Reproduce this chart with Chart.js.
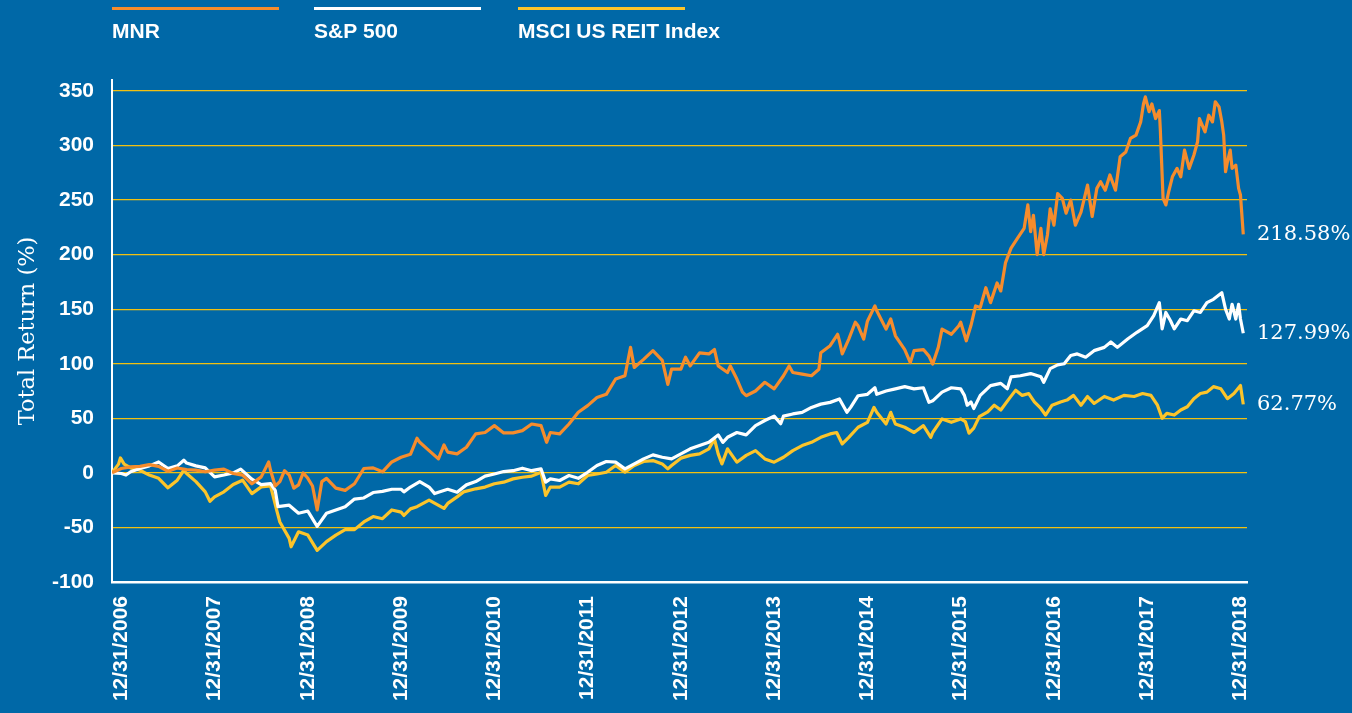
<!DOCTYPE html>
<html>
<head>
<meta charset="utf-8">
<script src="https://cdn.jsdelivr.net/npm/chart.js@4.4.1/dist/chart.umd.min.js"></script>
<style>
  html, body { margin: 0; padding: 0; background: #0068a7; overflow: hidden; }
  #wrap { width: 1352px; height: 713px; }
</style>
</head>
<body>
<div id="wrap"><canvas id="chart" width="1352" height="713"></canvas></div>
<script>
// x values are years after 12/31/2006

const yearLabels = ["12/31/2006", "12/31/2007", "12/31/2008", "12/31/2009", "12/31/2010", "12/31/2011",
  "12/31/2012", "12/31/2013", "12/31/2014", "12/31/2015", "12/31/2016", "12/31/2017", "12/31/2018"];
const yTicks = [-100, -50, 0, 50, 100, 150, 200, 250, 300, 350];
const seriesNames = ["MNR", "S&P 500", "MSCI US REIT Index"];
const endLabels = ["218.58%", "127.99%", "62.77%"];

const mnrT = [-0.1, 0, 0.1, 0.2, 0.3, 0.4, 0.5, 0.6, 0.7, 0.8, 0.9, 1.0, 1.1, 1.2, 1.3, 1.4, 1.5, 1.58, 1.6, 1.65,
  1.7, 1.75, 1.8, 1.85, 1.9, 1.95, 2.0, 2.05, 2.1, 2.15, 2.2, 2.3, 2.4, 2.5, 2.6, 2.7, 2.8, 2.9, 3.0, 3.1,
  3.17, 3.2, 3.3, 3.4, 3.46, 3.5, 3.6, 3.7, 3.8, 3.9, 4.0, 4.1, 4.2, 4.3, 4.4, 4.5, 4.56, 4.6, 4.7, 4.8,
  4.9, 5.0, 5.1, 5.2, 5.3, 5.4, 5.46, 5.5, 5.6, 5.7, 5.8, 5.86, 5.9, 6.0, 6.05, 6.1, 6.2, 6.3, 6.36, 6.4,
  6.5, 6.53, 6.6, 6.66, 6.7, 6.8, 6.9, 7.0, 7.1, 7.16, 7.2, 7.3, 7.4, 7.48, 7.5, 7.6, 7.68, 7.7, 7.73, 7.8,
  7.87, 7.9, 7.96, 8.0, 8.08, 8.1, 8.2, 8.25, 8.3, 8.4, 8.46, 8.5, 8.6, 8.66, 8.7, 8.76, 8.8, 8.9, 8.98, 9.0,
  9.06, 9.11, 9.16, 9.21, 9.27, 9.32, 9.39, 9.43, 9.48, 9.54, 9.61, 9.68, 9.72, 9.75, 9.78, 9.82, 9.86, 9.89, 9.93, 9.96,
  10.0, 10.04, 10.09, 10.13, 10.18, 10.23, 10.29, 10.36, 10.41, 10.46, 10.5, 10.55, 10.6, 10.66, 10.71, 10.77, 10.82, 10.88, 10.93, 10.96,
  10.98, 11.02, 11.05, 11.09, 11.13, 11.14, 11.17, 11.2, 11.23, 11.27, 11.32, 11.36, 11.4, 11.45, 11.5, 11.54, 11.56, 11.62, 11.66, 11.7,
  11.73, 11.77, 11.8, 11.82, 11.84, 11.86, 11.89, 11.91, 11.95, 11.98, 12.0, 12.03];
const mnrV = [0, 4, 5.5, 6, 7.6, 6, 1.5, 4.5, 3, 2.5, 1, 2.5, 3.4, -0.6, -2, -10, -3.7, 10, 2.4, -12,
  -8, 2, -2, -14, -11, 0, -5, -12, -34, -8, -5, -14, -16, -10, 4, 4.6, 1, 10, 14.3, 17,
  31.7, 28, 20.4, 12.8, 25.6, 19, 17.4, 23.5, 35.7, 37, 43.3, 36.6, 36.6, 38.7, 44.8, 43.3, 28, 37, 35.7, 44.8,
  55.5, 61.6, 69, 72, 86, 89, 115, 96.6, 104, 112, 103, 81, 95, 95, 106, 98, 110, 109, 113, 98,
  92, 98, 86, 74, 70.7, 75, 83, 77, 89, 98, 92, 90.5, 89, 95, 110, 116.5, 127, 121, 109, 122.6,
  138, 134.8, 122.6, 139, 153, 148.5, 131.7, 141, 125.6, 113, 101, 112, 113, 107, 99.7, 115, 131.7, 127, 134.8, 138,
  121, 135, 153, 151.5, 169.7, 156, 174, 166.7, 192.4, 206, 215, 224, 245.5, 221, 236, 200, 224, 200, 218, 242,
  227, 256, 251.5, 238, 250, 227, 239, 263.7, 235, 260.7, 266.8, 259, 273, 259, 289.6, 294, 306.4, 309.5, 321.6, 338,
  344.5, 331, 338, 324.7, 332, 315.6, 251.5, 245.5, 257.6, 271.3, 279, 271.3, 295.7, 279, 291, 303.4, 324.7, 312.5, 327.7, 321.6,
  340, 335.4, 321.6, 309.5, 276, 285, 295.7, 279, 282, 260.7, 254.6, 218.58];

const spT = [-0.1, 0, 0.05, 0.1, 0.2, 0.3, 0.4, 0.5, 0.6, 0.67, 0.7, 0.8, 0.9, 1.0, 1.1, 1.2, 1.28, 1.4, 1.5, 1.6,
  1.65, 1.68, 1.8, 1.9, 2.0, 2.1, 2.2, 2.3, 2.4, 2.5, 2.6, 2.7, 2.8, 2.9, 3.0, 3.03, 3.1, 3.2, 3.3, 3.36,
  3.4, 3.5, 3.6, 3.7, 3.8, 3.9, 4.0, 4.1, 4.2, 4.3, 4.4, 4.5, 4.55, 4.6, 4.7, 4.8, 4.9, 5.0, 5.1, 5.2,
  5.3, 5.4, 5.5, 5.6, 5.7, 5.8, 5.9, 6.0, 6.1, 6.2, 6.3, 6.4, 6.45, 6.5, 6.6, 6.7, 6.8, 6.9, 7.0, 7.07,
  7.1, 7.2, 7.3, 7.4, 7.5, 7.6, 7.7, 7.78, 7.82, 7.9, 8.0, 8.08, 8.1, 8.2, 8.3, 8.4, 8.5, 8.6, 8.66, 8.7,
  8.8, 8.9, 9.0, 9.04, 9.07, 9.11, 9.14, 9.21, 9.32, 9.43, 9.5, 9.54, 9.64, 9.75, 9.86, 9.89, 9.96, 10.04, 10.11, 10.18,
  10.25, 10.34, 10.43, 10.54, 10.61, 10.68, 10.79, 10.89, 11.0, 11.07, 11.13, 11.16, 11.2, 11.25, 11.29, 11.36, 11.43, 11.5, 11.57, 11.64,
  11.71, 11.8, 11.84, 11.88, 11.91, 11.95, 11.98, 12.0, 12.03];
const spV = [0, -0.6, -2, 1, 4, 6.4, 10, 4, 6.4, 11.6, 9, 6.4, 4.6, -3.7, -2, 0, 3.4, -5.8, -10.7, -9.8,
  -16, -31, -29.6, -37, -35, -49, -37, -34, -31, -24, -23, -18, -17, -15, -15, -17.4, -13, -8, -13, -19,
  -17.7, -15, -17.7, -11, -8, -3, -1, 1.2, 2, 4.3, 2, 3.7, -8.5, -5.5, -7, -2.4, -5, 0.6, 6.7, 10.4,
  9.8, 3.7, 8.2, 12.8, 16.5, 14.3, 12.8, 17.4, 22, 25, 28, 34.8, 28, 32.6, 37, 34.8, 43.3, 48, 52, 45,
  52, 54, 55.5, 60, 63, 64.6, 67.7, 55.5, 60, 70.7, 72, 78, 72, 75, 77, 79, 77, 78, 64.6, 66,
  74, 78, 77, 71, 62, 65, 59, 71, 80, 82, 77, 88, 89, 91, 88, 83, 95.5, 99, 100, 107.6,
  109, 106, 112, 115, 120, 115, 122.7, 128.8, 135, 144, 156, 132, 147, 139.4, 132, 141, 139.4, 148.5, 147, 156,
  159, 165, 150, 141, 154.5, 141, 154.5, 141, 127.99];

const reitT = [-0.1, -0.03, -0.01, 0.03, 0.1, 0.2, 0.3, 0.4, 0.5, 0.6, 0.67, 0.7, 0.8, 0.9, 0.95, 1.0, 1.1, 1.2, 1.3, 1.4,
  1.5, 1.6, 1.67, 1.7, 1.8, 1.82, 1.9, 2.0, 2.1, 2.2, 2.3, 2.4, 2.5, 2.6, 2.7, 2.8, 2.9, 3.0, 3.03, 3.1,
  3.17, 3.3, 3.46, 3.5, 3.6, 3.67, 3.8, 3.9, 4.0, 4.1, 4.2, 4.3, 4.4, 4.5, 4.55, 4.6, 4.7, 4.8, 4.9, 5.0,
  5.1, 5.2, 5.3, 5.4, 5.5, 5.6, 5.7, 5.8, 5.86, 5.9, 6.0, 6.1, 6.2, 6.3, 6.36, 6.4, 6.44, 6.5, 6.6, 6.7,
  6.8, 6.9, 7.0, 7.1, 7.2, 7.3, 7.4, 7.5, 7.6, 7.67, 7.73, 7.8, 7.9, 8.0, 8.07, 8.1, 8.2, 8.25, 8.3, 8.4,
  8.5, 8.6, 8.68, 8.7, 8.8, 8.9, 9.0, 9.05, 9.09, 9.14, 9.2, 9.29, 9.36, 9.43, 9.52, 9.59, 9.66, 9.73, 9.79, 9.86,
  9.91, 9.98, 10.07, 10.14, 10.21, 10.29, 10.36, 10.43, 10.54, 10.64, 10.75, 10.86, 10.95, 11.04, 11.11, 11.16, 11.21, 11.29, 11.36, 11.43,
  11.5, 11.57, 11.64, 11.71, 11.79, 11.86, 11.93, 12.0, 12.03];
const reitV = [0, 8, 13.7, 8, 4.6, 2.4, -2, -5, -13.7, -6.7, 2.4, -0.6, -8, -17.4, -26, -22, -17.4, -10.7, -6.7, -19,
  -12.8, -12, -35.6, -45, -60, -67.7, -54, -57, -71, -63, -57, -52, -52, -45, -40, -42, -34, -36, -39, -33,
  -31, -25, -32.6, -28, -22, -17.4, -14.6, -13, -10, -8.5, -5.5, -4, -3, 0.6, -20.7, -13, -13, -8.5, -10, -2.4,
  -1, 0.6, 6.7, 0.6, 6.7, 10.4, 11.3, 8.2, 3.7, 6.7, 13.5, 16, 17.4, 22, 31, 17.4, 8.2, 22, 9.8, 16,
  20.4, 12.8, 9.8, 14.3, 20.4, 25, 28, 32.6, 35.7, 37, 26.5, 32.6, 41.8, 46.3, 60, 55.5, 44.8, 55.5, 44.8, 41.8,
  37, 43.3, 32.6, 37, 49.4, 46.3, 49.4, 47, 36.4, 41, 51.5, 56, 62, 57.6, 68, 75.8, 71, 72.7, 65, 59,
  53, 62, 65, 66.7, 71, 62, 70, 63.6, 70, 66.7, 71, 70, 72.7, 71, 62, 50, 54.5, 53, 57.6, 60.6,
  68, 72.7, 74, 79, 77, 68, 72.7, 80, 62.77];

const colors = ["#f68c2c", "#ffffff", "#fcc42a"];
const GRID_GOLD = "#f2c010";
const SANS = "'Liberation Sans', Arial, sans-serif";
const SERIF = "'DejaVu Serif', serif";

function toPoints(ts, vs) {
  return ts.map((t, i) => ({ x: t, y: vs[i] }));
}

// legend above the plot: a colored bar with the name under it
const topLegend = {
  id: "topLegend",
  afterDraw(chart) {
    const ctx = chart.ctx;
    const xs = [112, 314, 518];
    ctx.save();
    seriesNames.forEach((name, i) => {
      ctx.strokeStyle = colors[i];
      ctx.lineWidth = 3;
      ctx.beginPath();
      ctx.moveTo(xs[i], 8.5);
      ctx.lineTo(xs[i] + 167, 8.5);
      ctx.stroke();
      ctx.fillStyle = "#ffffff";
      ctx.font = "bold 21px " + SANS;
      ctx.textBaseline = "alphabetic";
      ctx.textAlign = "left";
      ctx.fillText(name, xs[i], 38);
    });
    ctx.restore();
  },
};

// final values written to the right of the plot
const endValues = {
  id: "endValues",
  afterDatasetsDraw(chart) {
    const ctx = chart.ctx;
    const y = chart.scales.y;
    ctx.save();
    ctx.fillStyle = "#ffffff";
    ctx.font = "21px " + SERIF;
    ctx.textAlign = "left";
    ctx.textBaseline = "middle";
    chart.data.datasets.forEach((ds, i) => {
      const last = ds.data[ds.data.length - 1];
      ctx.fillText(endLabels[i], chart.chartArea.right + 10, y.getPixelForValue(last.y));
    });
    ctx.restore();
  },
};

new Chart(document.getElementById("chart"), {
  type: "line",
  data: {
    datasets: [
      { label: seriesNames[0], data: toPoints(mnrT, mnrV), borderColor: colors[0] },
      { label: seriesNames[1], data: toPoints(spT, spV), borderColor: colors[1] },
      { label: seriesNames[2], data: toPoints(reitT, reitV), borderColor: colors[2] },
    ],
  },
  options: {
    responsive: false,
    devicePixelRatio: 1,
    animation: false,
    layout: { padding: { top: 80, right: 105, left: 0, bottom: 0 } },
    elements: {
      line: { borderWidth: 3.2, tension: 0, borderJoinStyle: "round", fill: false },
      point: { radius: 0 },
    },
    plugins: {
      legend: { display: false },
      tooltip: { enabled: false },
    },
    scales: {
      x: {
        type: "linear",
        min: -0.1,
        max: 12.07,
        afterBuildTicks: (s) => { s.ticks = yearLabels.map((_, i) => ({ value: i })); },
        afterFit: (s) => { s.height = 131; },
        ticks: {
          color: "#ffffff",
          font: { family: SANS, size: 21, weight: "bold" },
          minRotation: 90,
          maxRotation: 90,
          autoSkip: false,
          padding: 14,
          callback: (v) => yearLabels[Math.round(v)],
        },
        grid: { color: "transparent", drawTicks: false },
        border: { color: "#ffffff", width: 2.5 },
      },
      y: {
        min: -100,
        max: 360,
        afterBuildTicks: (s) => { s.ticks = yTicks.map((v) => ({ value: v })); },
        afterFit: (s) => { s.width = 112; },
        ticks: {
          color: "#ffffff",
          font: { family: SANS, size: 21, weight: "bold" },
          padding: 18,
        },
        grid: {
          color: (c) => (c.tick && c.tick.value === -100 ? "transparent" : GRID_GOLD),
          lineWidth: 1.3,
          drawTicks: false,
        },
        border: { color: "#ffffff", width: 2 },
        title: {
          display: true,
          text: "Total Return (%)",
          color: "#ffffff",
          font: { family: SERIF, size: 22.5 },
          padding: { top: 15, bottom: 0 },
        },
      },
    },
  },
  plugins: [topLegend, endValues],
});
</script>
</body>
</html>
